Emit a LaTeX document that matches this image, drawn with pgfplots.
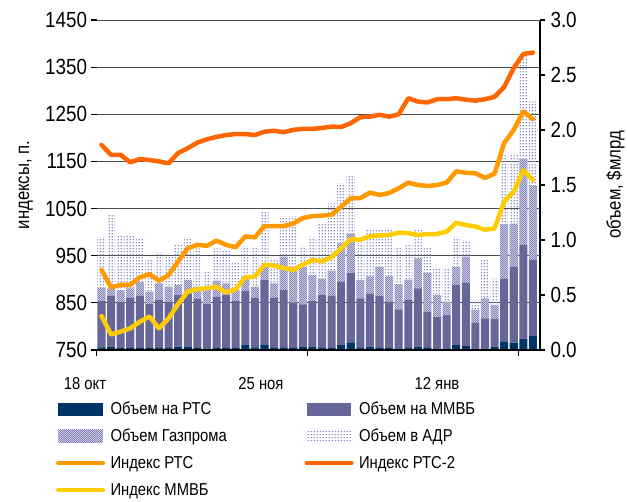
\documentclass[border=0pt]{standalone}
\usepackage{fontspec}
\setmainfont{Liberation Sans}[FakeStretch=0.86]
\usepackage{pgfplots}
\usepackage{pgfplotstable}
\pgfplotsset{compat=1.18}
\usetikzlibrary{patterns}
\definecolor{rtscol}{HTML}{003366}
\definecolor{mmvbcol}{HTML}{666699}
\definecolor{gazbg}{HTML}{D2D2E6}
\definecolor{gazdot}{HTML}{8686BA}
\definecolor{adrdot}{HTML}{8C8CC4}
\definecolor{lrts}{HTML}{FF9900}
\definecolor{lrtstwo}{HTML}{FF6600}
\definecolor{lmmvb}{HTML}{FFCC00}
\pgfdeclarepatternformonly{adrdots}{\pgfqpoint{0bp}{0bp}}{\pgfqpoint{3.2bp}{3.2bp}}{\pgfqpoint{3.2bp}{3.2bp}}{%
 \pgfpathrectangle{\pgfqpoint{0.9bp}{0.9bp}}{\pgfqpoint{1.4bp}{1.4bp}}\pgfusepath{fill}}
\pgfdeclarepatternformonly{gazcheck}{\pgfqpoint{0bp}{0bp}}{\pgfqpoint{2.4bp}{2.4bp}}{\pgfqpoint{2.4bp}{2.4bp}}{%
 \pgfpathrectangle{\pgfqpoint{0bp}{0bp}}{\pgfqpoint{1.2bp}{1.2bp}}%
 \pgfpathrectangle{\pgfqpoint{1.2bp}{1.2bp}}{\pgfqpoint{1.2bp}{1.2bp}}\pgfusepath{fill}}
\tikzset{
 rtsbar/.style={fill=rtscol, draw=none},
 mmvbbar/.style={fill=mmvbcol, draw=none},
 gazbar/.style={fill=gazbg, draw=none, postaction={pattern=gazcheck, pattern color=gazdot}},
 adrbar/.style={draw=none, pattern=adrdots, pattern color=adrdot},
}
\pgfplotsset{
 barlegend/.style={legend image code/.code={\path[##1] (0bp,-6.5bp) rectangle (44.7bp,6.5bp);}},
 linelegend/.style={legend image code/.code={\draw[##1] (0bp,0bp) -- (44.7bp,0bp);}},
}
\pgfplotstableread{
i rts mmvb gaz adr
0 0.025 0.420 0.125 0.455
1 0.030 0.464 0.066 0.667
2 0.020 0.416 0.109 0.491
3 0.020 0.455 0.085 0.490
4 0.020 0.474 0.126 0.398
5 0.020 0.398 0.112 0.288
6 0.020 0.437 0.149 0.284
7 0.020 0.420 0.136 0.288
8 0.030 0.470 0.090 0.370
9 0.030 0.480 0.126 0.389
10 0.020 0.444 0.112 0.348
11 0.015 0.403 0.127 0.165
12 0.020 0.465 0.145 0.294
13 0.020 0.480 0.106 0.294
14 0.020 0.425 0.100 0.245
15 0.045 0.491 0.130 0.279
16 0.020 0.455 0.101 0.364
17 0.045 0.591 0.121 0.509
18 0.020 0.455 0.131 0.227
19 0.025 0.520 0.305 0.360
20 0.020 0.410 0.327 0.461
21 0.030 0.385 0.342 0.188
22 0.030 0.415 0.235 0.345
23 0.020 0.480 0.150 0.507
24 0.020 0.474 0.226 0.613
25 0.045 0.575 0.350 0.545
26 0.070 0.630 0.360 0.525
27 0.020 0.450 0.166 0.340
28 0.030 0.480 0.160 0.420
29 0.020 0.470 0.267 0.340
30 0.020 0.420 0.230 0.420
31 0.015 0.355 0.230 0.333
32 0.020 0.435 0.185 0.324
33 0.030 0.530 0.273 0.264
34 0.020 0.330 0.350 0.240
35 0.010 0.290 0.200 0.250
36 0.015 0.303 0.122 0.310
37 0.045 0.545 0.167 0.268
38 0.036 0.574 0.240 0.150
39 0.010 0.238 0.116 0.091
40 0.015 0.273 0.182 0.348
41 0.030 0.250 0.130 0.240
42 0.075 0.575 0.495 0.625
43 0.066 0.691 0.393 0.640
44 0.100 0.855 0.785 0.930
45 0.127 0.693 0.680 0.760
}\bars
\pgfplotstableread{
i rts rtstwo mmvb
0 920 1185 822
1 883 1164 783
2 888 1164 789
3 888 1148 796
4 904 1155 810
5 911 1153 821
6 897 1150 796
7 909 1146 817
8 938 1168 848
9 966 1178 874
10 973 1190 879
11 971 1197 881
12 982 1202 884
13 973 1206 872
14 968 1208 879
15 991 1208 904
16 989 1206 906
17 1013 1213 931
18 1013 1215 929
19 1013 1212 924
20 1018 1217 920
21 1030 1219 931
22 1034 1219 941
23 1035 1221 938
24 1037 1224 947
25 1054 1223 966
26 1072 1231 985
27 1072 1244 984
28 1084 1245 991
29 1079 1249 993
30 1083 1245 994
31 1093 1250 999
32 1105 1284 998
33 1100 1277 994
34 1098 1275 996
35 1100 1282 996
36 1105 1282 1001
37 1129 1284 1020
38 1126 1281 1015
39 1125 1279 1012
40 1115 1282 1005
41 1124 1287 1008
42 1189 1308 1065
43 1217 1348 1086
44 1256 1378 1131
45 1240 1381 1111
}\idx
\begin{document}
\begin{tikzpicture}
\path[use as bounding box] (-96.7bp,-152bp) rectangle (530.3bp,350bp);
% volumes, right axis
\begin{axis}[
 scale only axis, width=443.3bp, height=330bp,
 xmin=-0.5, xmax=45.74, ymin=0, ymax=3,
 axis x line=none, axis y line*=right,
 y axis line style={line width=1.6bp, black, -},
 ybar stacked, bar width=0.84,
 ytick={0,0.5,1,1.5,2,2.5,3},
 yticklabel style={font=\fontsize{22}{26}\selectfont, xshift=2bp, /pgf/number format/.cd, fixed, fixed zerofill, precision=1, assume math mode=true},
 tick align=outside, major tick length=5bp,
 ytick style={black, line width=1.2bp},
 extra y ticks={0.428571,0.857143,1.285714,1.714286,2.142857,2.571429,3},
 extra y tick labels={},
 extra y tick style={major tick length=0pt, grid=major},
 major grid style={black!70, line width=0.9bp},
 ylabel={объем, \$млрд},
 ylabel style={at={(axis description cs:1.17,0.5)}, anchor=center, font=\fontsize{19.5}{22}\selectfont},
]
\addplot[rtsbar] table[x=i, y=rts]{\bars};
\addplot[mmvbbar] table[x=i, y=mmvb]{\bars};
\addplot[gazbar] table[x=i, y=gaz]{\bars};
\addplot[adrbar] table[x=i, y=adr]{\bars};
\end{axis}
% indices, left axis
\begin{axis}[
 scale only axis, width=443.3bp, height=330bp,
 xmin=-0.5, xmax=45.74, ymin=750, ymax=1450,
 axis x line*=bottom, axis y line*=left,
 y axis line style={draw=none},
 x axis line style={line width=2.2bp, black, -},
 xtick={-0.5,21.5,43.5}, xticklabels={},
 ytick={750,850,950,1050,1150,1250,1350,1450},
 tick align=outside, major tick length=6bp,
 tick style={black, line width=1.2bp},
 yticklabel style={font=\fontsize{22}{26}\selectfont, /pgf/number format/.cd, 1000 sep={}, assume math mode=true},
 ylabel={индексы, п.},
 ylabel style={at={(axis description cs:-0.16,0.5)}, anchor=center, font=\fontsize{19.5}{22}\selectfont},
 legend columns=2, legend cell align=left,
 legend style={at={(axis description cs:-0.0918,-0.1379)}, anchor=north west, draw=none, fill=none, inner sep=0pt, outer sep=0pt, column sep=0pt, row sep=0pt, font=\fontsize{17.3}{20}\selectfont, nodes={inner sep=0pt, text height=19bp, text depth=8bp}},
]
\addlegendimage{barlegend, rtsbar}
\addlegendentry{\makebox[199.3bp][l]{\hspace{5.3bp}Объем на РТС}}
\addlegendimage{barlegend, mmvbbar}
\addlegendentry{\hspace{5.3bp}Объем на ММВБ}
\addlegendimage{barlegend, gazbar}
\addlegendentry{\makebox[199.3bp][l]{\hspace{5.3bp}Объем Газпрома}}
\addlegendimage{barlegend, adrbar}
\addlegendentry{\hspace{5.3bp}Объем в АДР}
\addplot[color=lrts, line width=4.5bp, line join=round, line cap=round, linelegend] table[x=i, y=rts]{\idx};
\addlegendentry{\makebox[199.3bp][l]{\hspace{5.3bp}Индекс РТС}}
\addplot[color=lrtstwo, line width=4.5bp, line join=round, line cap=round, linelegend] table[x=i, y=rtstwo]{\idx};
\addlegendentry{\hspace{5.3bp}Индекс РТС-2}
\addplot[color=lmmvb, line width=4.5bp, line join=round, line cap=round, linelegend] table[x=i, y=mmvb]{\idx};
\addlegendentry{\makebox[199.3bp][l]{\hspace{5.3bp}Индекс ММВБ}}
\end{axis}
\node[anchor=base, font=\fontsize{17.3}{20}\selectfont] at (-11.7bp,-39.3bp) {18 окт};
\node[anchor=base, font=\fontsize{17.3}{20}\selectfont] at (164.3bp,-39.3bp) {25 ноя};
\node[anchor=base, font=\fontsize{17.3}{20}\selectfont] at (340.3bp,-39.3bp) {12 янв};
\end{tikzpicture}
\end{document}
